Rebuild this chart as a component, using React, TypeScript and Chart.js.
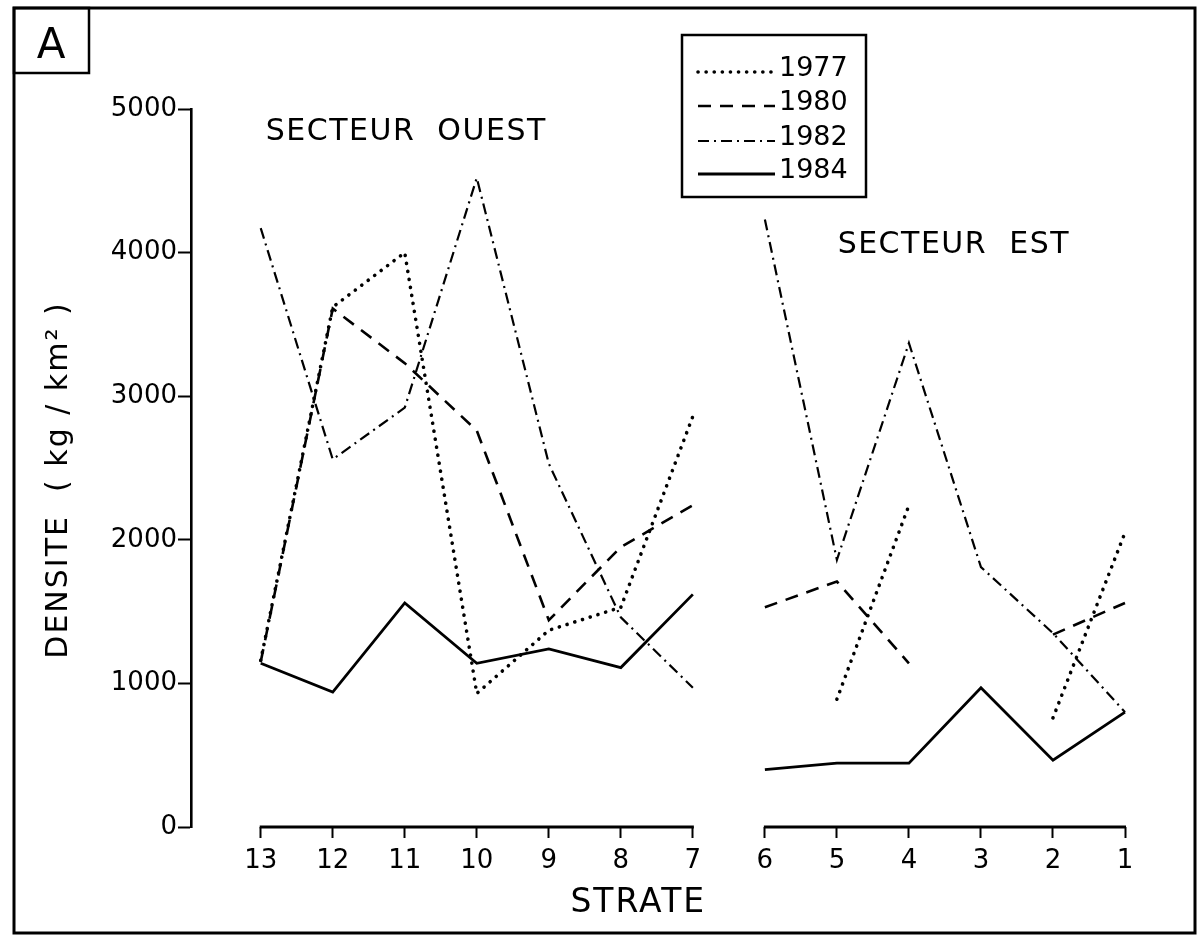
import { useEffect, useRef } from "react";
import { Chart, registerables } from "chart.js";

Chart.register(...registerables);

// Strata, from the western end (13) to the eastern end (1)
const strata = [13, 12, 11, 10, 9, 8, 7, 6, 5, 4, 3, 2, 1];
const westStrata = [13, 12, 11, 10, 9, 8, 7];
const eastStrata = [6, 5, 4, 3, 2, 1];
const yTicks = [0, 1000, 2000, 3000, 4000, 5000];
const years = ["1977", "1980", "1982", "1984"];
const sectorLabels = ["SECTEUR  OUEST", "SECTEUR  EST"];
const yTitle = "DENSITE  ( kg / km² )";
const xTitle = "STRATE";

// Density (kg / km²) per stratum, same order as `strata`
const d1977 = [1160, 3620, 4000, 930, 1370, 1530, 2860, null, 890, 2240, null, 760, 2050];
const d1980 = [1150, 3610, 3230, 2760, 1440, 1950, 2240, 1530, 1710, 1140, null, 1340, 1560];
const d1982 = [4170, 2560, 2920, 4520, 2530, 1460, 970, 4230, 1860, 3370, 1810, 1350, 800];
const d1984 = [1140, 940, 1560, 1140, 1240, 1110, 1620, 400, 445, 445, 970, 465, 800];

const FONT = "'DejaVu Sans', sans-serif";

const series = [d1977, d1980, d1982, d1984];
const styles = [
  { borderDash: [0.1, 8], borderWidth: 3.6, borderCapStyle: "round" },
  { borderDash: [13, 9], borderWidth: 2.6, borderCapStyle: "butt" },
  { borderDash: [11, 5, 2, 5], borderWidth: 2.2, borderCapStyle: "butt" },
  { borderDash: [], borderWidth: 2.8, borderCapStyle: "butt" },
];

const lastWest = westStrata[westStrata.length - 1];
const firstEast = eastStrata[0];

const decorPlugin = {
  id: "decor",
  afterDraw(chart: any) {
    const { ctx } = chart;
    const xs = chart.scales.x;
    const ys = chart.scales.y;
    ctx.save();
    ctx.strokeStyle = "#000";
    ctx.fillStyle = "#000";
    ctx.setLineDash([]);

    // outer frame
    ctx.lineWidth = 3;
    ctx.strokeRect(14, 8, 1181, 925);
    // panel letter box
    ctx.lineWidth = 2.5;
    ctx.strokeRect(14, 8, 75, 65);
    ctx.font = `42px ${FONT}`;
    ctx.textAlign = "center";
    ctx.textBaseline = "alphabetic";
    ctx.fillText("A", 51, 58);

    // broken x axis: one segment per sector
    ctx.lineWidth = 3.2;
    const yAxis = ys.getPixelForValue(0);
    [[westStrata[0], lastWest], [firstEast, eastStrata[eastStrata.length - 1]]].forEach(([a, b]) => {
      ctx.beginPath();
      ctx.moveTo(xs.getPixelForValue(a) - 1, yAxis);
      ctx.lineTo(xs.getPixelForValue(b) + 1, yAxis);
      ctx.stroke();
    });

    ctx.textAlign = "left";
    // sector labels
    (ctx as any).letterSpacing = "1.5px";
    ctx.font = `30px ${FONT}`;
    ctx.fillText(sectorLabels[0], xs.getPixelForValue(12.93), 140);
    ctx.fillText(sectorLabels[1], xs.getPixelForValue(4.99), 253);

    // x-axis title
    ctx.font = `33px ${FONT}`;
    (ctx as any).letterSpacing = "2px";
    ctx.fillText(xTitle, xs.getPixelForValue(8.7), 912);

    // y-axis title (rotated)
    ctx.save();
    ctx.font = `30px ${FONT}`;
    (ctx as any).letterSpacing = "2px";
    const tw = ctx.measureText(yTitle).width;
    const cy = (ys.top + ys.bottom) / 2 + 12;
    ctx.translate(67, cy);
    ctx.rotate(-Math.PI / 2);
    ctx.fillText(yTitle, -tw / 2, 0);
    ctx.restore();

    // legend
    const lx0 = 682, ly0 = 35, lx1 = 866, ly1 = 197;
    ctx.lineWidth = 2.5;
    ctx.strokeRect(lx0, ly0, lx1 - lx0, ly1 - ly0);
    ctx.font = `27px ${FONT}`;
    (ctx as any).letterSpacing = "0px";
    const baselines = [76, 110, 145, 178];
    chart.data.datasets.forEach((ds: any, i: number) => {
      const by = baselines[i];
      ctx.save();
      ctx.lineWidth = ds.borderWidth;
      ctx.setLineDash(ds.borderDash);
      ctx.lineCap = ds.borderCapStyle;
      ctx.beginPath();
      ctx.moveTo(698, by - 4);
      ctx.lineTo(775, by - 4);
      ctx.stroke();
      ctx.restore();
      ctx.fillText(ds.label, 779, by);
    });
    ctx.restore();
  },
};

export default function App() {
  const ref = useRef<HTMLCanvasElement>(null);
  useEffect(() => {
    const chart = new Chart(ref.current as HTMLCanvasElement, {
      type: "line",
      data: {
        datasets: series.map((arr, i) => ({
          label: years[i],
          data: strata.map((s, j) => ({ x: s, y: arr[j] })),
          borderColor: "#000",
          backgroundColor: "#000",
          pointRadius: 0,
          tension: 0,
          spanGaps: false,
          clip: false as any,
          ...styles[i],
          segment: {
            borderColor: (c: any) =>
              c.p0.parsed.x === lastWest && c.p1.parsed.x === firstEast ? "rgba(0,0,0,0)" : undefined,
          },
        })) as any,
      },
      plugins: [decorPlugin],
      options: {
        responsive: false,
        animation: false,
        devicePixelRatio: 1,
        layout: { padding: { left: 0, right: 72, top: 109, bottom: 0 } },
        plugins: { legend: { display: false }, tooltip: { enabled: false } },
        scales: {
          x: {
            type: "linear",
            reverse: true,
            min: 1,
            max: 13.968,
            afterFit: (s: any) => {
              s.height = 109;
            },
            afterBuildTicks: (s: any) => {
              s.ticks = strata.map((v) => ({ value: v }));
            },
            border: { display: false },
            grid: {
              display: true,
              drawOnChartArea: false,
              drawTicks: true,
              tickLength: 11,
              tickWidth: 2,
              tickColor: "#000",
            },
            ticks: {
              autoSkip: false,
              maxRotation: 0,
              padding: 8,
              color: "#000",
              font: { family: FONT, size: 26 },
              callback: (v: any) => String(v),
            },
          },
          y: {
            min: 0,
            max: 5000,
            afterFit: (s: any) => {
              s.width = 191;
            },
            afterBuildTicks: (s: any) => {
              s.ticks = yTicks.map((v) => ({ value: v }));
            },
            border: { display: true, color: "#000", width: 2.6 },
            grid: {
              display: true,
              drawOnChartArea: false,
              drawTicks: true,
              tickLength: 13,
              tickWidth: 2,
              tickColor: "#000",
            },
            ticks: {
              padding: 1,
              color: "#000",
              font: { family: FONT, size: 26 },
              callback: (v: any) => String(v),
            },
            title: { display: false },
          },
        },
      },
    } as any);
    return () => chart.destroy();
  }, []);
  return (
    <div style={{ position: "absolute", left: 0, top: 0, width: 1197, height: 936, background: "#fff" }}>
      <canvas ref={ref} width={1197} height={936} style={{ display: "block" }} />
    </div>
  );
}
